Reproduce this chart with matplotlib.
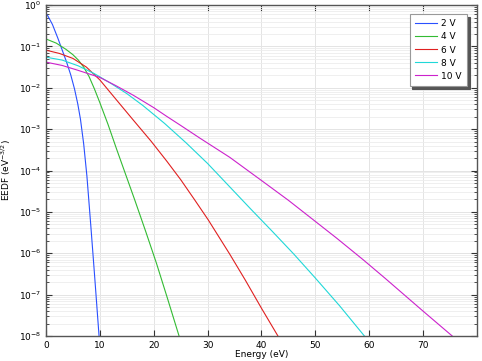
import numpy as np
import matplotlib
matplotlib.use("Agg")
import matplotlib.pyplot as plt
from matplotlib.ticker import NullFormatter

# energies (eV) and log10(EEDF)
e_2v = [0.25, 1.2, 2.2, 3.1, 3.8, 4.6, 5.3, 5.9, 6.4, 7.0, 7.6, 8.3, 9.0, 9.85]
f_2v = [-0.24, -0.47, -0.80, -1.12, -1.37, -1.69, -2.03, -2.39, -2.76, -3.36, -4.14, -5.30, -6.50, -8.0]

e_4v = [0, 1.9, 3.7, 5.0, 6.0, 7.0, 8.0, 9.0, 10.0, 11.5, 13.1, 14.8, 16.5, 18.5, 20.5, 22.5, 24.7]
f_4v = [-0.82, -0.92, -1.07, -1.20, -1.33, -1.50, -1.73, -2.03, -2.36, -2.88, -3.48, -4.10, -4.72,
        -5.47, -6.24, -7.07, -8.0]

e_6v = [0, 2.5, 5.0, 7.5, 10.0, 13.0, 16.2, 19.5, 22.4, 25.0, 27.6, 30.1, 34.1, 37.0, 40.0, 43.05]
f_6v = [-1.09, -1.17, -1.29, -1.50, -1.81, -2.28, -2.78, -3.29, -3.77, -4.22, -4.71, -5.19, -6.02,
        -6.65, -7.33, -8.0]

e_8v = [0, 3, 6, 9, 12, 15, 18, 22, 26, 30, 34, 38, 42, 46, 50, 54.5, 59.1]
f_8v = [-1.26, -1.33, -1.47, -1.66, -1.89, -2.14, -2.43, -2.86, -3.33, -3.83, -4.38, -4.93, -5.47,
        -6.02, -6.60, -7.27, -8.0]

e_10v = [0, 3, 6, 10, 13, 16.2, 20, 22.4, 25, 28.6, 34.1, 40.3, 45, 49.6, 54, 58.9, 62.9, 70, 75.4]
f_10v = [-1.38, -1.46, -1.58, -1.75, -1.95, -2.18, -2.48, -2.69, -2.91, -3.22, -3.68, -4.27, -4.72,
         -5.19, -5.64, -6.16, -6.60, -7.40, -8.0]

labels = ["2 V", "4 V", "6 V", "8 V", "10 V"]
colors = ["#2a50ff", "#33bb33", "#e02020", "#20d8d8", "#cc22cc"]
decades = list(range(-8, 1))

plt.rcParams['font.family'] = ['DejaVu Sans']

fig = plt.figure(figsize=(4.82, 3.61), dpi=100)
ax = fig.add_axes([0.0954, 0.0693, 0.8942, 0.9167])

series = [(e_2v, f_2v), (e_4v, f_4v), (e_6v, f_6v), (e_8v, f_8v), (e_10v, f_10v)]
for (e, f), lab, c in zip(series, labels, colors):
    ax.plot(e, 10 ** np.array(f), color=c, lw=0.8, label=lab)

ax.set_yscale('log')
ax.set_xlim(0, 80)
ax.set_ylim(1e-8, 1)
ax.set_xticks(range(0, 80, 10))
ax.set_yticks([10.0 ** d for d in decades])
ax.set_yticklabels(['$10^{%d}$' % d for d in decades])
minor = [m * 10.0 ** d for d in decades[:-1] for m in range(2, 10)]
ax.set_yticks(minor, minor=True)
ax.yaxis.set_minor_formatter(NullFormatter())

ax.grid(True, which='major', color='#e4e4e4', lw=0.7)
ax.grid(True, which='minor', axis='y', color='#ececec', lw=0.6)
ax.set_axisbelow(True)

ax.tick_params(which='both', direction='in', top=True, right=True,
               labelsize=6.5, colors='#333333', labelcolor='black')
ax.tick_params(which='major', length=4, width=0.8)
ax.tick_params(which='minor', length=2.5, width=0.6)
for s in ax.spines.values():
    s.set_color('#555555')
    s.set_linewidth(1.0)

ax.set_xlabel('Energy (eV)', fontsize=6.5, labelpad=0)
ax.set_ylabel('EEDF (eV$^{-3/2}$)', fontsize=6.5, labelpad=4)

leg = ax.legend(loc='upper right', bbox_to_anchor=(0.977, 0.973), borderaxespad=0,
                fontsize=6.5, fancybox=False, shadow={'color': '#555555', 'alpha': 1},
                framealpha=1, edgecolor='#999999', handlelength=2.4, handletextpad=0.5,
                borderpad=0.6, labelspacing=0.45)
leg.get_frame().set_linewidth(0.8)

fig.savefig('out.png', dpi=100)
